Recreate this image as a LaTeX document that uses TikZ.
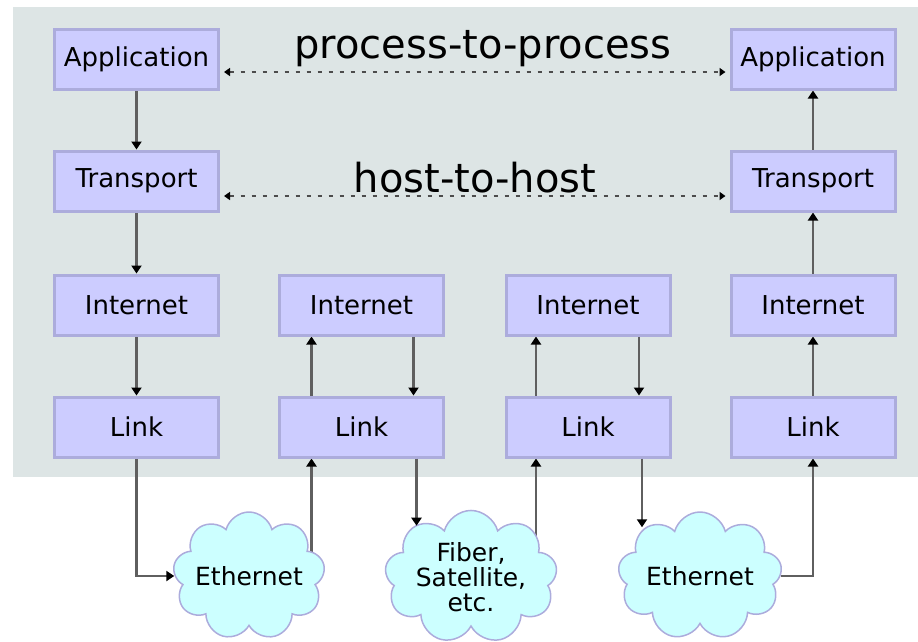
\documentclass[tikz,border=0pt]{standalone}
\usepackage{fontspec}
\setmainfont{DejaVu Sans}
\usetikzlibrary{arrows.meta,shapes.symbols,backgrounds,calc}

\definecolor{panelgray}{RGB}{221,229,229}
\definecolor{layerfill}{RGB}{204,204,255}
\definecolor{layerline}{RGB}{172,172,220}
\definecolor{cloudfill}{RGB}{204,255,255}
\definecolor{linkgray}{RGB}{95,95,95}

\tikzset{
  layer/.style={draw=layerline, line width=3pt, fill=layerfill, minimum width=164pt, minimum height=60pt, inner sep=0pt, font=\fontsize{26}{26}\selectfont},
  net/.style={cloud, cloud puffs=9, cloud ignores aspect, draw=layerline, line width=1.5pt, fill=cloudfill, minimum width=152pt, minimum height=128pt, inner sep=0pt, align=center, font=\fontsize{25}{25}\selectfont},
  flow/.style={linkgray, line width=2.8pt, -{Triangle[width=10pt,length=8pt,color=black]}},
  peer/.style={black!70, line width=2pt, dash pattern=on 4pt off 7pt, {Triangle[width=8pt,length=6pt,color=black]}-{Triangle[width=8pt,length=6pt,color=black]}, shorten <=4pt, shorten >=4pt}
}

\begin{document}
\begin{tikzpicture}[x=1pt,y=-1pt]
    \useasboundingbox (0,0) rectangle (918,641);
    % Shaded host area
    \begin{pgfonlayer}{background}
      \fill[panelgray] (13,7) rectangle (918,477);
    \end{pgfonlayer}

    % Layers of the two hosts and the two routers
    \node[layer] (app1) at (136.5,59) {Application};
    \node[layer] (tr1) at (136.5,181) {Transport};
    \node[layer] (in1) at (136.5,305) {Internet};
    \node[layer] (ln1) at (136.5,427) {Link};
    \node[layer] (in2) at (361.5,305) {Internet};
    \node[layer] (ln2) at (361.5,427) {Link};
    \node[layer] (in3) at (588,305) {Internet};
    \node[layer] (ln3) at (588,427) {Link};
    \node[layer] (app4) at (813,59) {Application};
    \node[layer] (tr4) at (813,181) {Transport};
    \node[layer] (in4) at (813,305) {Internet};
    \node[layer] (ln4) at (813,427) {Link};

    % Networks
    \node[net] (eth1) at (249,576) {Ethernet};
    \node[net, minimum width=172pt] (fib) at (471,577) {Fiber,\\Satellite,\\etc.};
    \node[net, minimum width=164pt] (eth3) at (700,576) {Ethernet};

    % Peer relations
    \draw[peer] ([yshift=-13pt]app1.east) -- ([yshift=-13pt]app4.west);
    \draw[peer] ([yshift=-15pt]tr1.east) -- ([yshift=-15pt]tr4.west);
    \node[anchor=base, font=\fontsize{40}{40}\selectfont] (p2p) at (483,58) {process-to-process};
    \node[anchor=base, font=\fontsize{40}{40}\selectfont] (h2h) at (475,192) {host-to-host};

    % Data flow
    \begin{scope}[on background layer]
      \draw[flow] (app1) -- (tr1);
      \draw[flow] (tr1) -- (in1);
      \draw[flow] (in1) -- (ln1);
      \draw[flow] (ln1.south) |- (eth1.west);
      \draw[flow] ([xshift=-50pt]ln2.south |- eth1.center) -- ([xshift=-50pt]ln2.south);
      \draw[flow] ([xshift=-50pt]ln2.north) -- ([xshift=-50pt]in2.south);
      \draw[flow] ([xshift=52pt]in2.south) -- ([xshift=52pt]ln2.north);
      \draw[flow] ($(ln3.south |- fib.center)+(-52,0)$) -- ([xshift=-52pt]ln3.south);
      \draw[flow] ([xshift=-52pt]ln3.north) -- ([xshift=-52pt]in3.south);
      \draw[flow] ([xshift=51pt]in3.south) -- ([xshift=51pt]ln3.north);
      \draw[flow] (eth3.east) -| (ln4.south);
      \draw[flow] (ln4) -- (in4);
      \draw[flow] (in4) -- (tr4);
      \draw[flow] (tr4) -- (app4);
    \end{scope}
    \draw[flow] ([xshift=55pt]ln2.south) -- ($(ln2.south |- fib.north)+(55,16)$);
    \draw[flow] ([xshift=54pt]ln3.south) -- ($(ln3.south |- eth3.north)+(54,16)$);
\end{tikzpicture}
\end{document}
